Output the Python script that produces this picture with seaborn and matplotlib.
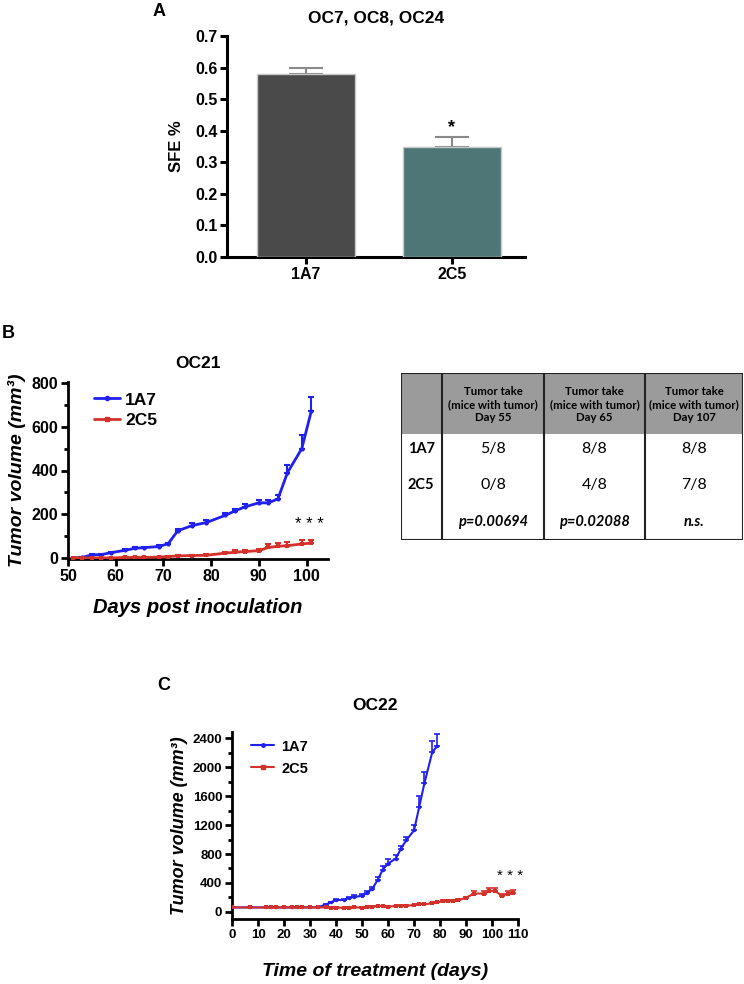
import numpy as np
import pandas as pd
import matplotlib
matplotlib.use('Agg')
import matplotlib.pyplot as plt
from matplotlib.ticker import MultipleLocator, FormatStrFormatter
from matplotlib.patches import Rectangle
from matplotlib.lines import Line2D
import seaborn as sns

sns.set_theme(style="ticks")
plt.rcParams['font.family'] = ['Liberation Sans', 'DejaVu Sans']
plt.rcParams['font.weight'] = 'bold'
for k in ("text.color", "axes.labelcolor", "xtick.color", "ytick.color", "axes.edgecolor"):
    plt.rcParams[k] = "black"

# ---- panel A: sphere forming efficiency ----
a_groups = ["1A7", "2C5"]
a_sfe = [0.58, 0.35]
a_err = [0.02, 0.03]
a_colors = ["#4a4a4a", "#477c7d"]

# ---- panel B: OC21 tumor growth ----
b_days = [51, 53, 55, 57, 59, 62, 64, 66, 69, 71, 73, 76, 79, 83, 85, 87, 90, 92, 94, 96, 99, 101]
b_1a7 = [0, 2, 14, 15, 24, 35, 44, 47, 52, 65, 124, 148, 162, 195, 215, 233, 252, 252, 270, 390, 500, 672]
b_1a7_err = [1, 2, 4, 4, 4, 4, 4, 4, 9, 5, 10, 12, 12, 9, 10, 12, 15, 15, 20, 35, 62, 65]
b_2c5 = [0, 0, 0, 0, 0, 2, 2, 2, 4, 6, 9, 11, 12, 22, 26, 29, 33, 48, 53, 56, 64, 68]
b_2c5_err = [1, 1, 1, 1, 1, 1, 1, 1, 2, 3, 3, 3, 4, 6, 8, 8, 10, 15, 15, 16, 16, 16]

# ---- panel B table ----
tbl_head = ["Tumor take\n(mice with tumor)\nDay 55",
            "Tumor take\n(mice with tumor)\nDay 65",
            "Tumor take\n(mice with tumor)\nDay 107"]
tbl_rows = ["1A7", "2C5", ""]
tbl_cells = [["5/8", "8/8", "8/8"],
             ["0/8", "4/8", "7/8"],
             ["p=0.00694", "p=0.02088", "n.s."]]

# ---- panel C: OC22 tumor growth ----
c_days_1a7 = [0, 7, 13, 15, 17, 20, 23, 25, 27, 30, 33, 36, 38, 40, 43, 45, 47, 50, 52, 54,
              56, 58, 60, 63, 65, 67, 70, 72, 74, 77, 79]
c_1a7 = [60, 60, 60, 60, 60, 60, 60, 60, 60, 60, 62, 100, 130, 161, 165, 190, 207, 220, 262, 320,
         440, 585, 667, 737, 875, 990, 1127, 1450, 1780, 2208, 2300]
c_1a7_err = [4, 4, 4, 4, 4, 4, 4, 4, 4, 4, 6, 10, 12, 20, 15, 20, 30, 25, 30, 30,
             35, 50, 64, 45, 40, 40, 80, 147, 150, 160, 160]
c_days_2c5 = [0, 7, 13, 15, 17, 20, 23, 25, 27, 30, 33, 36, 38, 40, 43, 45, 47, 50, 52, 54,
              56, 58, 60, 63, 65, 67, 70, 72, 74, 77, 79, 81, 83, 85, 87, 90, 93, 97, 99, 101,
              104, 106, 108]
c_2c5 = [60, 60, 60, 60, 60, 60, 60, 60, 60, 60, 60, 60, 58, 58, 55, 58, 60, 58, 65, 70,
         80, 79, 72, 79, 83, 84, 92, 106, 106, 115, 129, 147, 147, 147, 161, 193, 253, 253, 290, 290,
         221, 253, 262]
c_2c5_err = [4, 4, 4, 4, 4, 4, 4, 4, 4, 4, 4, 4, 4, 4, 4, 4, 4, 4, 5, 5,
             6, 6, 6, 6, 6, 6, 8, 8, 8, 8, 10, 12, 12, 12, 12, 15, 38, 35, 45, 45,
             20, 38, 35]

BLUE = "#2020f0"
RED = "#d5312b"

fig = plt.figure(figsize=(7.44, 9.84), dpi=100)
W, H = 744.0, 984.0


def px_axes(x0, y0, x1, y1):
    return fig.add_axes([x0 / W, 1 - y1 / H, (x1 - x0) / W, (y1 - y0) / H])


def style_axes(ax, lw, fs):
    sns.despine(ax=ax)
    for s in ("left", "bottom"):
        ax.spines[s].set_linewidth(lw)
        ax.spines[s].set_color("black")
    ax.tick_params(which="major", width=lw, length=5, labelsize=fs, color="black",
                   labelcolor="black", pad=2)
    ax.tick_params(which="minor", width=lw, length=3, color="black")


def upper_err(ax, x, y, e, color, cap, lw):
    ax.errorbar(x, y, yerr=[np.zeros(len(e)), e], fmt="none", ecolor=color,
                capsize=cap, elinewidth=lw, capthick=lw, zorder=2)


# ================= Panel A =================
axA = px_axes(227, 36, 525, 257)
dfA = pd.DataFrame({"group": a_groups, "sfe": a_sfe})
sns.barplot(data=dfA, x="group", y="sfe", hue="group", palette=a_colors, legend=False,
            width=0.67, edgecolor="#c8c8c8", linewidth=1.0, ax=axA, zorder=3)
upper_err(axA, [0, 1], a_sfe, a_err, "#8a8a8a", 12, 1.5)
axA.set_xlim(-0.54, 1.5)
axA.set_ylim(0, 0.7)
axA.yaxis.set_major_locator(MultipleLocator(0.1))
axA.yaxis.set_major_formatter(FormatStrFormatter("%.1f"))
axA.set_xlabel("")
axA.set_ylabel("SFE %", fontsize=12, fontweight="bold", labelpad=8)
style_axes(axA, 2.2, 11.5)
axA.set_title("OC7, OC8, OC24", fontsize=12.5, fontweight="bold", pad=10)
axA.text(1, 0.41, "*", ha="center", va="center", fontsize=13)
fig.text(159 / W, 1 - 12 / H, "A", fontsize=13, fontweight="bold", ha="center", va="center")

# ================= Panel B =================
axB = px_axes(68, 382, 328, 559)
sns.lineplot(x=b_days, y=b_1a7, color=BLUE, marker="o", markersize=3, markeredgewidth=0,
             linewidth=2, ax=axB, zorder=3)
sns.lineplot(x=b_days, y=b_2c5, color=RED, marker="s", markersize=3, markeredgewidth=0,
             linewidth=2, ax=axB, zorder=3)
upper_err(axB, b_days, b_1a7, b_1a7_err, BLUE, 2.5, 1.5)
upper_err(axB, b_days, b_2c5, b_2c5_err, RED, 2.5, 1.5)
axB.set_xlim(50, 104.5)
axB.set_ylim(-5, 805)
axB.xaxis.set_major_locator(MultipleLocator(10))
axB.yaxis.set_major_locator(MultipleLocator(200))
axB.yaxis.set_minor_locator(MultipleLocator(100))
style_axes(axB, 2.0, 11.5)
axB.set_xlabel("Days post inoculation", fontsize=14.5, fontweight="bold", style="italic", labelpad=10)
axB.set_ylabel("Tumor volume (mm³)", fontsize=14, fontweight="bold", style="italic", labelpad=4)
axB.set_title("OC21", fontsize=12.5, fontweight="bold", pad=10)
axB.text(100.5, 152, "* * *", ha="center", va="center", fontsize=12, fontweight="normal")
handlesB = [Line2D([], [], color=BLUE, lw=2, marker="o", markersize=3),
            Line2D([], [], color=RED, lw=2, marker="s", markersize=3)]
axB.legend(handlesB, ["1A7", "2C5"], loc="upper left", bbox_to_anchor=(0.06, 1.0), frameon=False,
           prop={"size": 12.5, "weight": "bold"}, handlelength=1.5, handletextpad=0.3,
           labelspacing=0.3, borderaxespad=0.2)
fig.text(8 / W, 1 - 333 / H, "B", fontsize=13, fontweight="bold", ha="center", va="center")

# ================= Table =================
axT = px_axes(401, 373, 743, 540)
axT.set_xlim(401, 743)
axT.set_ylim(540, 373)
axT.axis("off")
col_edges = [401, 442, 544, 645, 743]
head_bottom = 434
axT.add_patch(Rectangle((401, 373), 342, head_bottom - 373, facecolor="#9b9b9b", edgecolor="none"))
axT.add_patch(Rectangle((401, 373), 342, 540 - 373, facecolor="none", edgecolor="#222222", lw=1.5))
for xe in col_edges[1:-1]:
    axT.plot([xe, xe], [373, 540], color="#222222", lw=1.5)
tfont = ["Lato", "DejaVu Sans"]
for j, h in enumerate(tbl_head):
    xc = (col_edges[j + 1] + col_edges[j + 2]) / 2
    axT.text(xc, (373 + head_bottom) / 2 + 1, h, ha="center", va="center", fontsize=8.2,
             fontweight="bold", family=tfont, linespacing=1.25)
row_y = [449, 485, 522]
for i, r in enumerate(tbl_rows):
    axT.text(408, row_y[i], r, ha="left", va="center", fontsize=10.5, fontweight="bold", family=tfont)
    for j, c in enumerate(tbl_cells[i]):
        xc = (col_edges[j + 1] + col_edges[j + 2]) / 2
        if i == 2:
            axT.text(xc, row_y[i], c, ha="center", va="center", fontsize=10.5, fontweight="bold",
                     style="italic", family=tfont)
        else:
            axT.text(xc, row_y[i], c, ha="center", va="center", fontsize=11.5,
                     fontweight="normal", family=tfont)

# ================= Panel C =================
axC = px_axes(232, 732, 518, 919)
sns.lineplot(x=c_days_1a7, y=c_1a7, color=BLUE, marker="o", markersize=2.5, markeredgewidth=0,
             linewidth=1.5, ax=axC, zorder=3)
sns.lineplot(x=c_days_2c5, y=c_2c5, color=RED, marker="s", markersize=2.5, markeredgewidth=0,
             linewidth=1.5, ax=axC, zorder=3)
upper_err(axC, c_days_1a7, c_1a7, c_1a7_err, BLUE, 2, 1.2)
upper_err(axC, c_days_2c5, c_2c5, c_2c5_err, RED, 2, 1.2)
axC.set_xlim(0, 110)
axC.set_ylim(-100, 2490)
axC.xaxis.set_major_locator(MultipleLocator(10))
axC.yaxis.set_major_locator(MultipleLocator(400))
axC.yaxis.set_minor_locator(MultipleLocator(200))
style_axes(axC, 2.0, 9.5)
axC.set_xlabel("Time of treatment (days)", fontsize=14, fontweight="bold", style="italic", labelpad=16)
axC.set_ylabel("Tumor volume (mm³)", fontsize=13, fontweight="bold", style="italic", labelpad=3)
axC.set_title("OC22", fontsize=12.5, fontweight="bold", pad=16)
axC.text(107, 500, "* * *", ha="center", va="center", fontsize=11, fontweight="normal")
handlesC = [Line2D([], [], color=BLUE, lw=1.5, marker="o", markersize=2.5),
            Line2D([], [], color=RED, lw=1.5, marker="s", markersize=2.5)]
axC.legend(handlesC, ["1A7", "2C5"], loc="upper left", bbox_to_anchor=(0.02, 1.03), frameon=False,
           prop={"size": 10.5, "weight": "bold"}, handlelength=1.6, handletextpad=0.5,
           labelspacing=0.55)
fig.text(164 / W, 1 - 685 / H, "C", fontsize=13, fontweight="bold", ha="center", va="center")

fig.savefig("out.png", dpi=100, facecolor="white")
